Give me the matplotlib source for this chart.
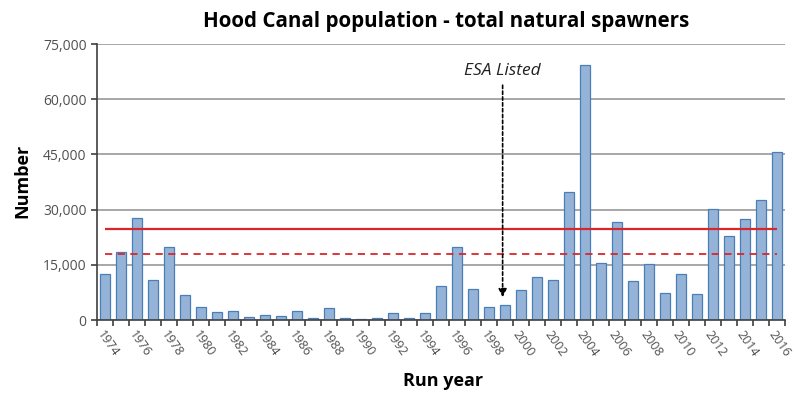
import matplotlib.pyplot as plt
import numpy as np

plt.rcParams['font.family'] = ['Open Sans', 'DejaVu Sans']

# run years and natural spawner counts
years = list(range(1974, 2017))
spawners = [12400, 18400, 27800, 10900, 19900, 6700, 3600, 2200, 2400, 800,
            1400, 1100, 2400, 550, 3200, 550, 200, 500, 1800, 500,
            1800, 9200, 19900, 8300, 3400, 4000, 8100, 11700, 10900, 34900,
            69400, 15400, 26500, 10500, 15100, 7400, 12600, 7000, 30100, 22900,
            27500, 32700, 45700]
target_solid = 24700
target_dashed = 17900
yticks = [0, 15000, 30000, 45000, 60000, 75000]
esa_year = 1998.85

fig = plt.figure(figsize=(7.96, 3.94), dpi=100)
ax = fig.add_axes([0.1219, 0.1878, 0.8643, 0.7005])

ax.set_axisbelow(True)
ax.yaxis.grid(True, color='#a0a0a0', linewidth=1.3)
ax.bar(years, spawners, width=0.64, color='#95b3d7', edgecolor='#4a7ebb', linewidth=0.9)

ax.hlines(target_solid, years[0], years[-1], color='#d9262b', linewidth=1.6)
ax.hlines(target_dashed, years[0], years[-1], color='#d9262b', linewidth=1.3,
          linestyles=(0, (4, 3)))

ax.annotate('', xy=(esa_year, 6200), xytext=(esa_year, 63800),
            arrowprops=dict(arrowstyle='-|>', linestyle=(0, (2, 1.5)), color='black',
                            lw=1.2, mutation_scale=12, shrinkA=0, shrinkB=0))
ax.text(esa_year, 67800, 'ESA Listed', style='italic', fontsize=12.5, color='#222222',
        ha='center', va='center')

ax.set_xlim(years[0] - 0.5, years[-1] + 0.5)
ax.set_ylim(0, 75000)
ax.set_yticks(yticks)
ax.set_yticklabels(['{:,}'.format(v) for v in yticks], fontsize=10, color='#505050')
ax.set_xticks(years[::2])
ax.set_xticklabels([str(y) for y in years[::2]], rotation=-55, ha='left',
                   rotation_mode='anchor', fontsize=9, color='#505050')
ax.set_xticks(np.arange(years[0] - 0.5, years[-1] + 1), minor=True)
ax.tick_params(axis='x', which='major', length=0, pad=6)
ax.tick_params(axis='x', which='minor', length=4, width=1.2, color='#404040')
ax.tick_params(axis='y', length=4, width=1.2, color='#404040')

for s in ['top', 'right']:
    ax.spines[s].set_visible(False)
ax.spines['left'].set_color('#404040')
ax.spines['bottom'].set_color('#404040')
ax.spines['left'].set_linewidth(1.2)
ax.spines['bottom'].set_linewidth(1.2)

fig.text(0.561, 0.945, 'Hood Canal population - total natural spawners', fontsize=14.8,
         fontweight='bold', ha='center', va='center')
fig.text(0.028, 0.54, 'Number', fontsize=13, fontweight='bold', rotation=90,
         ha='center', va='center')
fig.text(0.556, 0.032, 'Run year', fontsize=13, fontweight='bold', ha='center', va='center')

fig.savefig('out.png', dpi=100)
